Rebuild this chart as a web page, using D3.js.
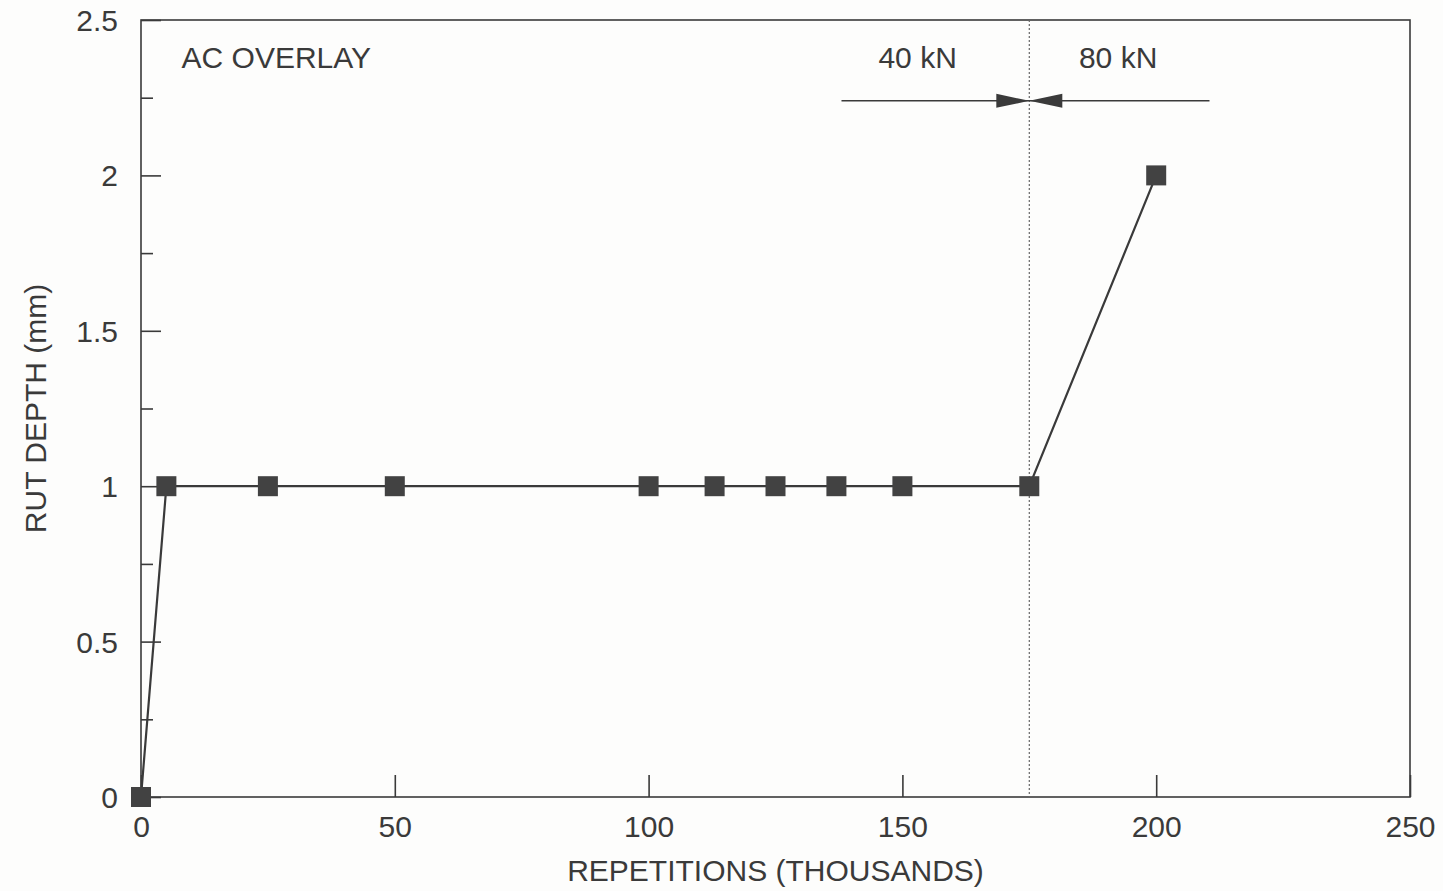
<!DOCTYPE html>
<html>
<head>
<meta charset="utf-8">
<script src="https://cdn.jsdelivr.net/npm/d3@7"></script>
<style>
  body { margin: 0; background: #fff; }
  svg { display: block; font-family: "Liberation Sans", Arial, sans-serif; }
</style>
</head>
<body>
<div id="chart"></div>
<script>
// data
const repetitions = [0, 5, 25, 50, 100, 113, 125, 137, 150, 175, 200];
const rut_depth = [0, 1, 1, 1, 1, 1, 1, 1, 1, 1, 2];
const x_ticks = [0, 50, 100, 150, 200, 250];
const y_ticks = [0, 0.5, 1, 1.5, 2, 2.5];
const y_minor = [0.25, 0.75, 1.25, 1.75, 2.25];
const load_change = 175;
const load_labels = [{ x: 153, text: "40 kN" }, { x: 192.5, text: "80 kN" }];

const W = 1443, H = 891;
const margin = { top: 20, right: 33, bottom: 94, left: 141 };
const width = W - margin.left - margin.right;
const height = H - margin.top - margin.bottom;
const ink = "#3a3a3a";

const svg = d3.select("#chart").append("svg")
    .attr("width", W)
    .attr("height", H);
svg.append("rect").attr("width", W).attr("height", H).attr("fill", "#fdfdfc");

const g = svg.append("g")
    .attr("transform", `translate(${margin.left},${margin.top})`);

const x = d3.scaleLinear().domain([0, 250]).range([0, width]);
const y = d3.scaleLinear().domain([0, 2.5]).range([height, 0]);

// frame
g.append("rect")
    .attr("width", width)
    .attr("height", height)
    .attr("fill", "none")
    .attr("stroke", ink)
    .attr("stroke-width", 1.6);

// inward ticks
const x_axis = g.append("g")
    .attr("transform", `translate(0,${height})`)
    .call(d3.axisBottom(x).tickValues(x_ticks).tickSize(-22).tickPadding(40).tickFormat(d3.format("d")));
const y_axis = g.append("g")
    .call(d3.axisLeft(y).tickValues(y_ticks).tickSize(-20).tickPadding(23).tickFormat(d => d));
g.append("g")
    .call(d3.axisLeft(y).tickValues(y_minor).tickSize(-12).tickFormat(""));

g.selectAll(".domain").remove();
g.selectAll(".tick line").attr("stroke", ink).attr("stroke-width", 1.6);
x_axis.selectAll(".tick text").attr("fill", ink).style("font-size", "30px").attr("dy", "0");
y_axis.selectAll(".tick text").attr("fill", ink).style("font-size", "30px").attr("dy", "0.35em");

// load change marker
g.append("line")
    .attr("x1", x(load_change)).attr("x2", x(load_change))
    .attr("y1", 0).attr("y2", height)
    .attr("stroke", "#666")
    .attr("stroke-width", 1.2)
    .attr("stroke-dasharray", "2,2");

const arrow_y = y(2.24);
g.append("line")
    .attr("x1", x(138)).attr("x2", x(210.5))
    .attr("y1", arrow_y).attr("y2", arrow_y)
    .attr("stroke", ink)
    .attr("stroke-width", 1.6);

const tip = x(load_change);
g.append("path")
    .attr("d", `M${tip},${arrow_y} L${x(168.5)},${arrow_y - 7} L${x(168.5)},${arrow_y + 7} Z`)
    .attr("fill", ink);
g.append("path")
    .attr("d", `M${tip},${arrow_y} L${x(181.5)},${arrow_y - 7} L${x(181.5)},${arrow_y + 7} Z`)
    .attr("fill", ink);

g.selectAll(".load-label")
    .data(load_labels)
    .enter().append("text")
    .attr("x", d => x(d.x))
    .attr("y", y(2.38))
    .attr("dy", "0.35em")
    .attr("text-anchor", "middle")
    .attr("fill", ink)
    .style("font-size", "30px")
    .text(d => d.text);

g.append("text")
    .attr("x", x(8))
    .attr("y", y(2.38))
    .attr("dy", "0.35em")
    .attr("fill", ink)
    .style("font-size", "30px")
    .text("AC OVERLAY");

// series
const points = repetitions.map((r, i) => ({ r: r, d: rut_depth[i] }));

g.append("path")
    .datum(points)
    .attr("fill", "none")
    .attr("stroke", ink)
    .attr("stroke-width", 2.2)
    .attr("d", d3.line().x(d => x(d.r)).y(d => y(d.d)));

const sq = 20;
g.selectAll(".pt")
    .data(points)
    .enter().append("rect")
    .attr("x", d => x(d.r) - sq / 2)
    .attr("y", d => y(d.d) - sq / 2)
    .attr("width", sq)
    .attr("height", sq)
    .attr("fill", "#424242");

// axis titles
svg.append("text")
    .attr("x", margin.left + x(125))
    .attr("y", 870)
    .attr("dy", "0.35em")
    .attr("text-anchor", "middle")
    .attr("fill", ink)
    .style("font-size", "30px")
    .text("REPETITIONS (THOUSANDS)");

svg.append("text")
    .attr("transform", `translate(35,${margin.top + y(1.25)}) rotate(-90)`)
    .attr("dy", "0.35em")
    .attr("text-anchor", "middle")
    .attr("fill", ink)
    .style("font-size", "30px")
    .text("RUT DEPTH (mm)");
</script>
</body>
</html>
